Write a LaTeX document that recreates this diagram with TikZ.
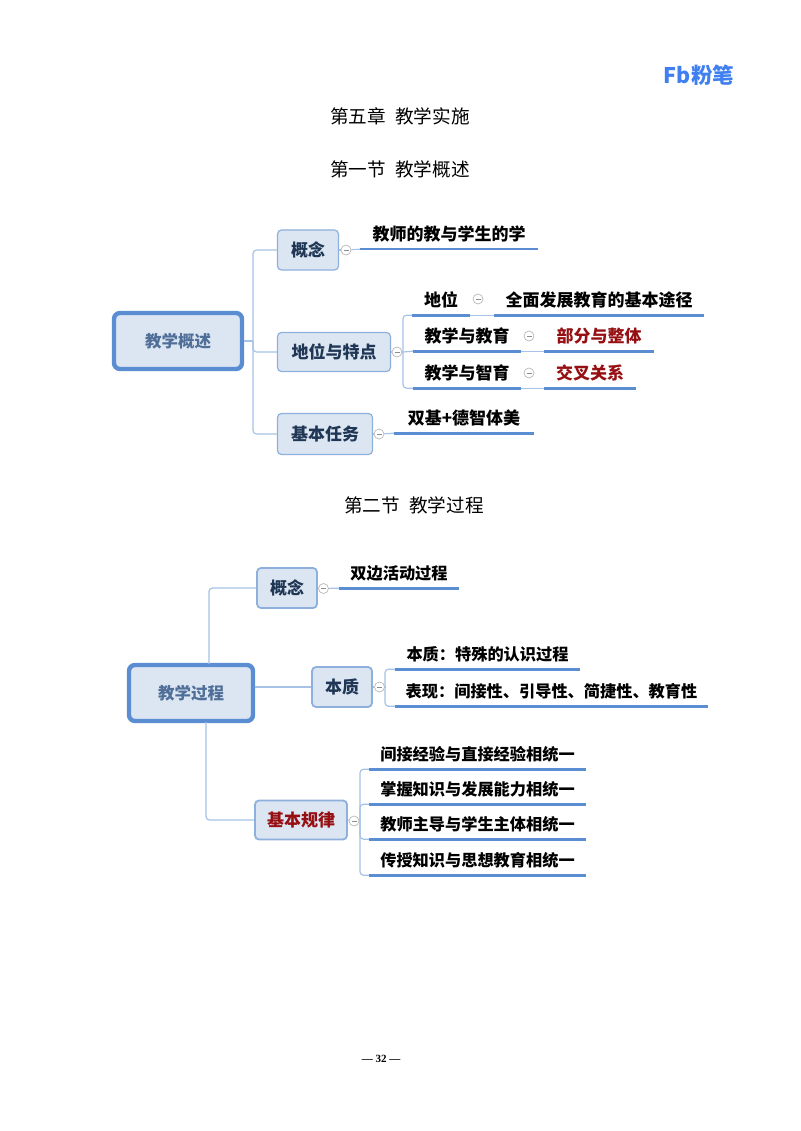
\documentclass[tikz,border=0pt]{standalone}
\usepackage{fontspec}
\setmainfont{Noto Sans CJK SC}
\newfontfamily\pagefont{Liberation Serif}
\usetikzlibrary{positioning}

\definecolor{boxfill}{HTML}{DCE6F2}
\definecolor{boxline}{HTML}{8DB0DC}
\definecolor{rootline}{HTML}{5B8DD3}
\definecolor{rootink}{HTML}{4F6F98}
\definecolor{topicink}{HTML}{1F3654}
\definecolor{redink}{HTML}{960F12}
\definecolor{linkline}{HTML}{A6C2E6}
\definecolor{logoblue}{HTML}{3F7FEF}

\tikzset{
  title/.style={font=\fontsize{18.6}{20}\selectfont,text=black,inner sep=0pt},
  root/.style={draw=rootline,line width=4.4pt,fill=boxfill,rounded corners=6pt,inner sep=0pt,
    font=\fontsize{16.5}{18}\selectfont\bfseries,text=rootink},
  topic/.style={draw=boxline,line width=1.2pt,fill=boxfill,rounded corners=4pt,inner sep=0pt,
    font=\fontsize{17}{19}\selectfont\bfseries,text=topicink},
  leaf/.style={inner sep=0pt,font=\fontsize{17}{18}\selectfont\bfseries,text=black},
  leafB/.style={inner sep=0pt,font=\fontsize{16.2}{18}\selectfont\bfseries,text=black},
  hit/.style={leaf,text=redink},
  fold/.style={circle,draw=black!28,line width=0.7pt,fill=white,inner sep=0pt,minimum size=10pt,
    text=black!45},
  link/.style={draw=linkline,line width=1.2pt,rounded corners=3.5pt},
  uline/.style={draw=rootline,line width=2.6pt}
}
\newcommand{\foldmark}{\rule[0.2pt]{5pt}{0.7pt}}

\begin{document}
\begin{tikzpicture}[x=1pt,y=-1pt]
\useasboundingbox (0,0) rectangle (800,1131);

\node[inner sep=0pt,text=logoblue,font=\fontsize{21.5}{22}\selectfont\bfseries] at (699,75) (logo) {Fb粉笔};
\node[title] at (400,116) (chapter) {第五章\hspace{0.5em}教学实施};
\node[title] at (400,169) (secA) {第一节\hspace{0.5em}教学概述};
\node[title] at (414,505) (secB) {第二节\hspace{0.5em}教学过程};
\node[inner sep=0pt,font=\fontsize{11}{12}\selectfont\pagefont\bfseries] at (381,1059) (pageno) {— 32 —};

% first map
\node[root,minimum width=128pt,minimum height=56pt] at (178,341) (rootA) {教学概述};
\node[topic,minimum width=61pt,minimum height=40pt] at (308,250) (ideaA) {概念};
\node[topic,minimum width=113pt,minimum height=39pt] at (334,352) (place) {地位与特点};
\node[topic,minimum width=95pt,minimum height=41pt] at (325,434) (task) {基本任务};
\node[fold] at (346,250) (foldA) {\foldmark};
\node[fold] at (397,352) (foldB) {\foldmark};
\node[fold] at (379,434) (foldC) {\foldmark};
\coordinate (trunkA) at (253,341);
\coordinate (brace) at (403,352);

\node[leaf,minimum width=177pt,minimum height=30pt] at (449,234) (teach) {教师的教与学生的学};
\node[leaf,minimum width=57pt,minimum height=30pt] at (441,300) (pos) {地位};
\node[leaf,minimum width=210pt,minimum height=30pt] at (599,300) (way) {全面发展教育的基本途径};
\node[leaf,minimum width=108pt,minimum height=30pt] at (467,336) (edu) {教学与教育};
\node[hit,minimum width=109pt,minimum height=30pt] at (599,336) (whole) {部分与整体};
\node[leaf,minimum width=108pt,minimum height=30pt] at (467,373) (moral) {教学与智育};
\node[hit,minimum width=91pt,minimum height=30pt] at (590,373) (cross) {交叉关系};
\node[leaf,minimum width=139pt,minimum height=30pt] at (464,418) (base) {双基+德智体美};
\node[fold] at (478,299) (foldD) {\foldmark};
\node[fold] at (529,336) (foldE) {\foldmark};
\node[fold] at (529,373) (foldF) {\foldmark};

\draw[link] (rootA.east) -- (trunkA);
\draw[link] (trunkA) |- (ideaA.west);
\draw[link] (trunkA) |- (place.west);
\draw[link] (trunkA) |- (task.west);
\draw[link] (ideaA.east) -- (foldA);
\draw[link] (foldA) -- (teach.south west);
\draw[link] (place.east) -- (foldB);
\draw[link] (foldB) -- (brace);
\draw[link] (brace) |- (pos.south west);
\draw[link] (brace) -- (edu.south west);
\draw[link] (brace) |- (moral.south west);
\draw[link] (task.east) -- (foldC);
\draw[link] (foldC) -- (base.south west);
\draw[link] (pos.south east) -- (way.south west);
\draw[link] (edu.south east) -- (whole.south west);
\draw[link] (moral.south east) -- (cross.south west);

\draw[uline] (teach.south west) -- (teach.south east);
\draw[uline] (pos.south west) -- (pos.south east);
\draw[uline] (way.south west) -- (way.south east);
\draw[uline] (edu.south west) -- (edu.south east);
\draw[uline] (whole.south west) -- (whole.south east);
\draw[uline] (moral.south west) -- (moral.south east);
\draw[uline] (cross.south west) -- (cross.south east);
\draw[uline] (base.south west) -- (base.south east);

% second map
\node[root,minimum width=124pt,minimum height=56pt] at (191,693) (rootB) {教学过程};
\node[topic,minimum width=60pt,minimum height=40pt,line width=1.8pt] at (287,588) (ideaB) {概念};
\node[topic,minimum width=60pt,minimum height=40pt,line width=1.8pt] at (342,687) (core) {本质};
\node[topic,minimum width=92pt,minimum height=39pt,line width=1.8pt,text=redink] at (301,820) (law) {基本规律};
\node[fold] at (323.5,588.5) (foldG) {\foldmark};
\node[fold] at (379.5,687) (foldH) {\foldmark};
\node[fold] at (354,821) (foldI) {\foldmark};
\coordinate (braceB) at (385,687);
\coordinate (braceC) at (360,821);
\coordinate (upB) at (209,664);
\coordinate (downB) at (206,722);

\node[leafB,minimum width=120pt,minimum height=30pt] at (399,573) (dual) {双边活动过程};
\node[leafB,minimum width=185pt,minimum height=30pt] at (487.5,654) (nature) {本质：特殊的认识过程};
\node[leafB,minimum width=313pt,minimum height=30pt] at (551.5,691) (show) {表现：间接性、引导性、简捷性、教育性};
\node[leafB,minimum width=217pt,minimum height=30pt] at (477.5,754) (lawA) {间接经验与直接经验相统一};
\node[leafB,minimum width=217pt,minimum height=30pt] at (477.5,789) (lawB) {掌握知识与发展能力相统一};
\node[leafB,minimum width=217pt,minimum height=30pt] at (477.5,824) (lawC) {教师主导与学生主体相统一};
\node[leafB,minimum width=217pt,minimum height=30pt] at (477.5,860) (lawD) {传授知识与思想教育相统一};

\draw[link] (upB) |- (ideaB.west);
\draw[link] (rootB.east |- core.west) -- (core.west);
\draw[link] (downB) |- (law.west);
\draw[link] (ideaB.east) -- (foldG);
\draw[link] (foldG) -- (dual.south west);
\draw[link] (core.east) -- (foldH);
\draw[link] (foldH) -- (braceB);
\draw[link] (braceB) |- (nature.south west);
\draw[link] (braceB) |- (show.south west);
\draw[link] (law.east) -- (foldI);
\draw[link] (foldI) -- (braceC);
\draw[link] (braceC) |- (lawA.south west);
\draw[link] (braceC) |- (lawB.south west);
\draw[link] (braceC) |- (lawC.south west);
\draw[link] (braceC) |- (lawD.south west);

\draw[uline] (dual.south west) -- (dual.south east);
\draw[uline] (nature.south west) -- (nature.south east);
\draw[uline] (show.south west) -- (show.south east);
\draw[uline] (lawA.south west) -- (lawA.south east);
\draw[uline] (lawB.south west) -- (lawB.south east);
\draw[uline] (lawC.south west) -- (lawC.south east);
\draw[uline] (lawD.south west) -- (lawD.south east);
\end{tikzpicture}
\end{document}
